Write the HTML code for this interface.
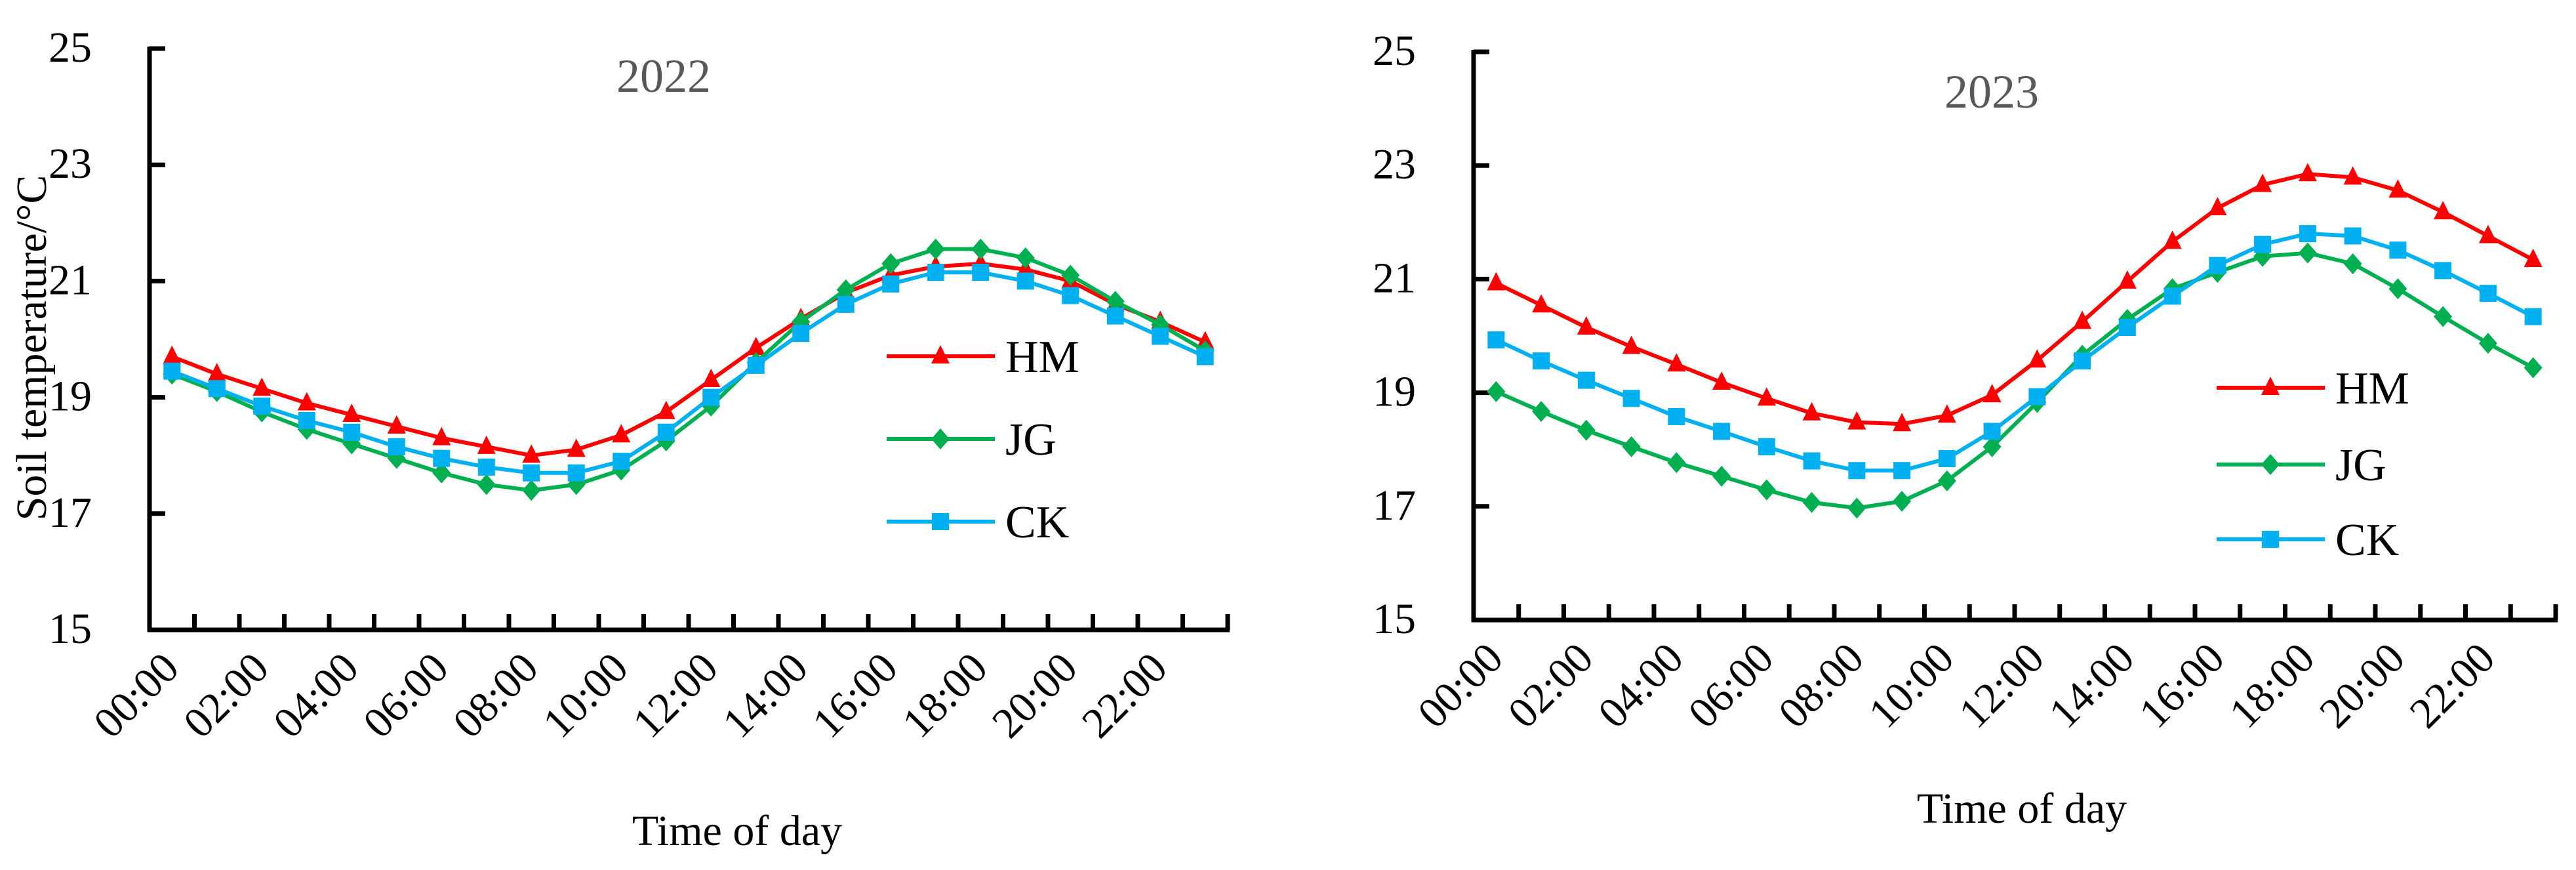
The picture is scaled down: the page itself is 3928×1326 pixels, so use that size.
<!DOCTYPE html>
<html><head><meta charset="utf-8"><style>
html,body{margin:0;padding:0;background:#fff;}
svg{display:block;font-family:"Liberation Serif",serif;}
</style></head><body>
<svg id="svg" width="3928" height="1326" viewBox="0 0 3928 1326" xmlns="http://www.w3.org/2000/svg"></svg>
<script>
const categories = ["00:00","01:00","02:00","03:00","04:00","05:00","06:00","07:00","08:00","09:00","10:00","11:00","12:00","13:00","14:00","15:00","16:00","17:00","18:00","19:00","20:00","21:00","22:00","23:00"];
const yTicks = [15,17,19,21,23,25];
const seriesNames = ["HM","JG","CK"];
const hm2022 = [19.7,19.4,19.15,18.9,18.7,18.5,18.3,18.15,18.0,18.1,18.35,18.75,19.3,19.85,20.35,20.8,21.1,21.25,21.3,21.2,21.0,20.6,20.3,19.95];
const jg2022 = [19.4,19.1,18.75,18.45,18.2,17.95,17.7,17.5,17.4,17.5,17.75,18.25,18.85,19.6,20.3,20.85,21.3,21.55,21.55,21.4,21.1,20.65,20.25,19.8];
const ck2022 = [19.45,19.15,18.85,18.6,18.4,18.15,17.95,17.8,17.7,17.7,17.9,18.4,19.0,19.55,20.1,20.6,20.95,21.15,21.15,21.0,20.75,20.4,20.05,19.7];
const hm2023 = [20.93,20.54,20.15,19.81,19.5,19.18,18.9,18.64,18.48,18.45,18.6,18.96,19.57,20.25,20.96,21.66,22.25,22.66,22.85,22.79,22.56,22.18,21.76,21.34];
const jg2023 = [19.02,18.67,18.34,18.05,17.77,17.53,17.29,17.07,16.97,17.09,17.45,18.05,18.83,19.66,20.29,20.83,21.12,21.4,21.46,21.27,20.83,20.34,19.87,19.44];
const ck2023 = [19.93,19.56,19.22,18.9,18.58,18.32,18.05,17.8,17.63,17.63,17.84,18.32,18.93,19.56,20.15,20.7,21.24,21.61,21.8,21.76,21.51,21.15,20.75,20.34];

const NS="http://www.w3.org/2000/svg";
const svg=document.getElementById('svg');
function mk(tag,attrs,parent){const e=document.createElementNS(NS,tag);for(const k in attrs)e.setAttribute(k,attrs[k]);(parent||svg).appendChild(e);return e;}
const colors={HM:"#FF0000",JG:"#00B050",CK:"#00B0F0"};

function marker(g,name,x,y){
  const c=colors[name];let m;
  if(name==="HM"){m=mk('polygon',{points:`${x},${y-17} ${x-14},${y+11} ${x+14},${y+11}`,fill:c},g);}
  else if(name==="JG"){m=mk('polygon',{points:`${x},${y-16} ${x+14},${y} ${x},${y+16} ${x-14},${y}`,fill:c},g);}
  else {m=mk('rect',{x:x-13,y:y-13,width:26,height:26,fill:c},g);}
  return m;
}

function chart(cfg){
  const g=mk('g',{});
  
  
  const n=categories.length;
  const step=(cfg.x1-cfg.x0)/n;
  const xs=i=>cfg.x0+step*(i+0.5);
  const ys=v=>cfg.yb+(v-15)/(25-15)*(cfg.yt-cfg.yb);
  const ya=mk('line',{x1:cfg.x0,y1:cfg.yt-3,x2:cfg.x0,y2:cfg.yb+3,stroke:"#000","stroke-width":7},g);
  
  const xa=mk('line',{x1:cfg.x0-3,y1:cfg.yb,x2:cfg.x1+3,y2:cfg.yb,stroke:"#000","stroke-width":7},g);
  
  yTicks.forEach(t=>{
    const y=ys(t);
    mk('line',{x1:cfg.x0,y1:y,x2:cfg.x0+24,y2:y,stroke:"#000","stroke-width":7},g);
    const tx=mk('text',{x:cfg.x0-88,y:y+20,"text-anchor":"end","font-size":66,fill:"#000"},g);
    tx.textContent=t;
    
  });
  for(let i=1;i<=n;i++){
    const x=cfg.x0+step*i;
    mk('line',{x1:x,y1:cfg.yb,x2:x,y2:cfg.yb-24,stroke:"#000","stroke-width":7},g);
  }
  categories.forEach((c,i)=>{
    if(i%2)return;
    const x=xs(i)+14,y=cfg.yb+62;
    const tx=mk('text',{x:x,y:y,"text-anchor":"end","font-size":66,transform:`rotate(-45 ${x} ${y})`},g);
    tx.textContent=c;
    
  });
  const tt=mk('text',{x:cfg.tx,y:cfg.ty,"text-anchor":"middle","font-size":72,fill:"#595959"},g);
  tt.textContent=cfg.title;
  
  const xt=mk('text',{x:cfg.xtx,y:cfg.xty,"text-anchor":"middle","font-size":66},g);
  xt.textContent="Time of day";
  
  cfg.series.forEach((vals,si)=>{
    const name=seriesNames[si];
    const sg=mk('g',{},g);
    
    
    const pts=vals.map((v,i)=>xs(i)+","+ys(v)).join(" ");
    mk('polyline',{points:pts,fill:"none",stroke:colors[name],"stroke-width":6,"stroke-linejoin":"round"},sg);
    vals.forEach((v,i)=>{
      const m=marker(sg,name,xs(i),ys(v));
      
      
    });
  });
  seriesNames.forEach((name,si)=>{
    const lg=mk('g',{},g);
    
    
    const y=cfg.ly[si];
    mk('line',{x1:cfg.lx,y1:y,x2:cfg.lx+165,y2:y,stroke:colors[name],"stroke-width":6},lg);
    marker(lg,name,cfg.lx+82,y);
    const t=mk('text',{x:cfg.lx+181,y:y+24,"font-size":70},lg);
    t.textContent=name;
  });
}

chart({id:"chart-2022",x0:228,x1:1872,yt:74,yb:960,title:"2022",tx:1012,ty:140,xtx:1124,xty:1288,
  series:[hm2022,jg2022,ck2022],lx:1352,ly:[543,669,795]});
chart({id:"chart-2023",x0:2247,x1:3897,yt:79,yb:945,title:"2023",tx:3037,ty:164,xtx:3083,xty:1254,
  series:[hm2023,jg2023,ck2023],lx:3380,ly:[591,708,822]});

const yl=mk('text',{x:0,y:0,"text-anchor":"middle","font-size":66,transform:"translate(70 530) rotate(-90)"});
yl.textContent="Soil temperature/°C";


</script>
</body></html>
